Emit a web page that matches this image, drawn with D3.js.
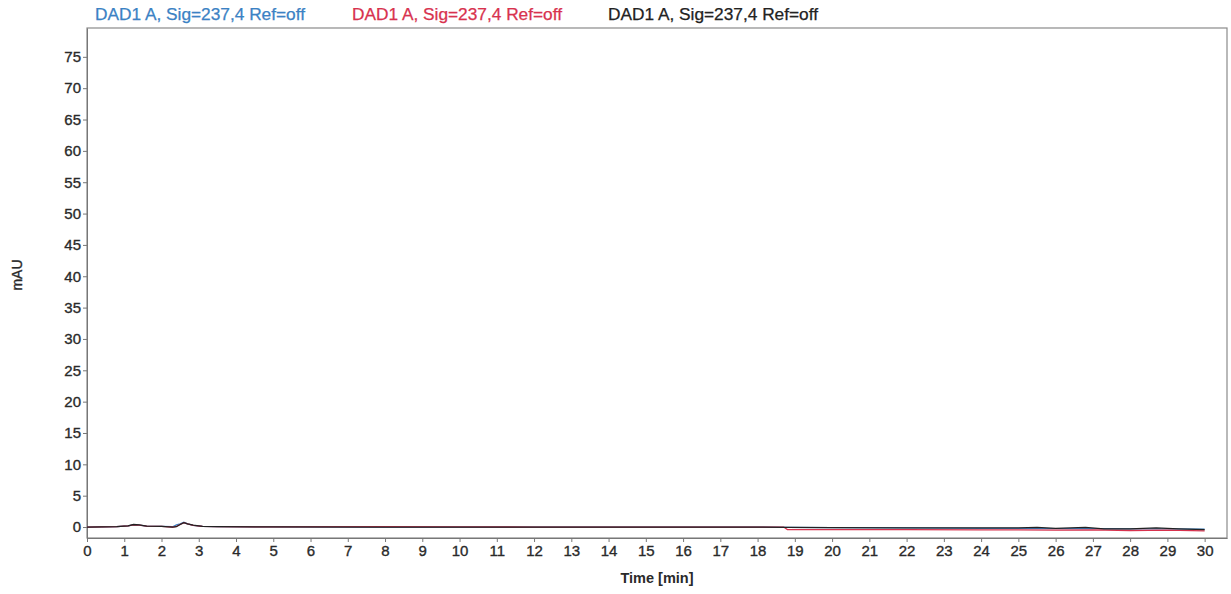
<!DOCTYPE html>
<html><head><meta charset="utf-8">
<script src="https://cdn.jsdelivr.net/npm/d3@7"></script>
<style>body{margin:0;background:#fff}svg{font-family:"Liberation Sans",Arial,sans-serif}</style>
</head><body>
<svg id="c" width="1231" height="594"></svg>
<script>
const seriesNames = ["DAD1 A, Sig=237,4 Ref=off","DAD1 A, Sig=237,4 Ref=off","DAD1 A, Sig=237,4 Ref=off"];
const seriesColors = ["#3b82c4","#d8324e","#222222"];
const xTicks = d3.range(0,31,1);
const yTicks = d3.range(0,80,5);
const blueT = [0,0.8,1.1,1.25,1.4,1.6,2.0,2.3,2.4,2.5,2.6,2.7,2.85,3.1,3.5,5,8,10,12,15,18,18.8,20,22,24,25,26,27,28,29,30];
const blueV = [0,0.05,0.2,0.35,0.3,0.15,0.1,0.05,0.35,0.5,0.75,0.5,0.25,0.1,0.05,0.02,0,0,0,0,0,-0.05,-0.1,-0.15,-0.2,-0.2,-0.25,-0.25,-0.3,-0.3,-0.35];
const redT = [0,0.8,1.1,1.25,1.4,1.6,2.0,2.3,2.4,2.5,2.6,2.7,2.85,3.1,3.5,5,8,10,12,15,18.7,18.8,20,22,24,25,26,27,28,29,30];
const redV = [0,0.05,0.2,0.35,0.3,0.15,0.1,0.0,0.1,0.4,0.7,0.5,0.25,0.1,0.05,0.02,0.05,0.02,0,0,0,-0.4,-0.4,-0.42,-0.45,-0.45,-0.5,-0.45,-0.55,-0.5,-0.6];
const blackT = [0,0.8,1.1,1.25,1.4,1.6,2.0,2.3,2.4,2.5,2.6,2.7,2.85,3.1,3.5,5,8,10,12,15,18,18.8,20,22,24,25,25.5,26,26.8,27.3,28,28.7,29.3,30];
const blackV = [0,0.05,0.2,0.4,0.35,0.15,0.1,0.0,0.05,0.4,0.7,0.5,0.3,0.1,0.05,0.02,0,0,0,0,0,-0.05,-0.1,-0.12,-0.15,-0.12,-0.05,-0.22,-0.05,-0.28,-0.3,-0.15,-0.3,-0.4];

const svg = d3.select("#c");
const m = {l:87, t:28, r:1227, b:538};
const x = d3.scaleLinear().domain([0,30.6]).range([m.l, m.r]);
const y = d3.scaleLinear().domain([-1.75,79.6]).range([m.b, m.t]);

svg.append("rect").attr("x",m.l).attr("y",m.t).attr("width",m.r-m.l).attr("height",m.b-m.t)
  .attr("fill","none").attr("stroke","#8a8a8a").attr("stroke-width",1.2);

function styleText(sel, size){
  sel.attr("font-size",size).attr("fill","#2a2a2a").attr("stroke","#2a2a2a").attr("stroke-width",0.35)
    .attr("font-family","Liberation Sans, Arial");
}

const xa = svg.append("g").attr("transform",`translate(0,${m.b})`)
  .call(d3.axisBottom(x).tickValues(xTicks).tickSize(4).tickSizeOuter(0).tickPadding(3).tickFormat(d3.format("d")));
xa.select(".domain").attr("stroke","#777");
xa.selectAll(".tick line").attr("stroke","#777");
styleText(xa.selectAll("text"), 15);

const ya = svg.append("g").attr("transform",`translate(${m.l},0)`)
  .call(d3.axisLeft(y).tickValues(yTicks).tickSize(4).tickSizeOuter(0).tickPadding(2).tickFormat(d3.format("d")));
ya.select(".domain").attr("stroke","#777");
ya.selectAll(".tick line").attr("stroke","#777");
styleText(ya.selectAll("text"), 15);

svg.append("text").attr("x",657).attr("y",583).attr("text-anchor","middle").attr("font-size",14.5)
  .attr("font-weight","bold").attr("fill","#2a2a2a").text("Time [min]");
const ml = svg.append("text").attr("transform","translate(22,275) rotate(-90)").attr("text-anchor","middle").text("mAU");
styleText(ml, 14);

const legX = [95,352,608];
seriesNames.forEach((n,i)=>{
  svg.append("text").attr("x",legX[i]).attr("y",20).attr("font-size",16).attr("fill",seriesColors[i])
    .attr("stroke",seriesColors[i]).attr("stroke-width",0.25)
    .attr("textLength",210).attr("lengthAdjust","spacingAndGlyphs").text(n);
});

const line = d3.line().x(d=>x(d[0])).y(d=>y(d[1]));
const data = [d3.zip(blueT,blueV), d3.zip(redT,redV), d3.zip(blackT,blackV)];
data.forEach((d,i)=>{
  svg.append("path").datum(d).attr("d",line).attr("fill","none").attr("stroke",seriesColors[i]).attr("stroke-width",1.3);
});
</script>
</body></html>
